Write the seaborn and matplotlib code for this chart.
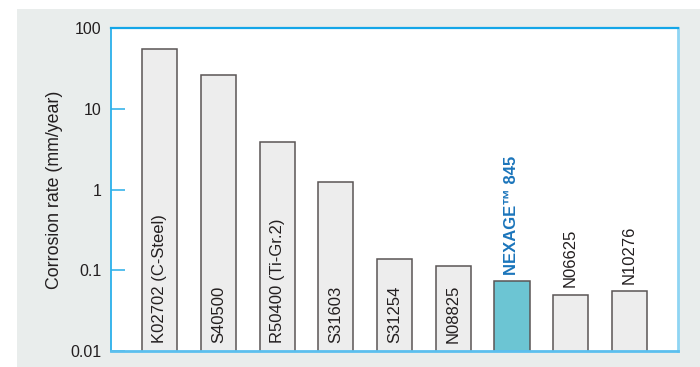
import matplotlib
matplotlib.use("Agg")
import matplotlib.pyplot as plt
from matplotlib.patches import Rectangle
from matplotlib.ticker import FixedLocator, FixedFormatter, NullLocator
import seaborn as sns
import pandas as pd

# Corrosion rates of alloys (mm/year)
alloys = ["K02702 (C-Steel)", "S40500", "R50400 (Ti-Gr.2)", "S31603", "S31254",
          "N08825", "NEXAGE™ 845", "N06625", "N10276"]
rates = [55.5, 26.4, 3.87, 1.25, 0.136, 0.112, 0.073, 0.050, 0.055]
label_inside = [True, True, True, True, True, True, False, False, False]
highlight = "NEXAGE™ 845"

ytick_values = [0.01, 0.1, 1, 10, 100]
ytick_labels = ["0.01", "0.1", "1", "10", "100"]

sns.set_theme(style="white")
plt.rcParams["font.family"] = ["Liberation Sans", "DejaVu Sans"]

TEXT = "#231f20"
BLUE_TXT = "#1b75bb"
BAR_FACE = "#ededed"
BAR_HI = "#6cc5d3"
BAR_EDGE = "#5a5555"

fig = plt.figure(figsize=(7.0, 3.67), dpi=100)
fig.patch.set_facecolor("white")
# grey panel behind the chart
fig.patches.append(Rectangle((17 / 700, 0), 1 - 17 / 700, 1 - 9 / 367,
                             transform=fig.transFigure, facecolor="#e9edec",
                             edgecolor="none", zorder=-10))

ax = fig.add_axes([111 / 700, 16 / 367, 567 / 700, 323 / 367])
ax.set_zorder(5)
ax.set_facecolor("white")

df = pd.DataFrame({"alloy": alloys, "rate": rates})
palette = {a: (BAR_HI if a == highlight else BAR_FACE) for a in alloys}
sns.barplot(data=df, x="alloy", y="rate", hue="alloy", palette=palette,
            width=0.6, edgecolor=BAR_EDGE, linewidth=1.1, legend=False,
            saturation=1, ax=ax)

ax.set_yscale("log")
ax.set_ylim(0.01, 100)
ax.set_xlim(-0.83, len(alloys) - 1 + 0.83)

ax.yaxis.set_major_locator(FixedLocator(ytick_values))
ax.yaxis.set_major_formatter(FixedFormatter(ytick_labels))
ax.yaxis.set_minor_locator(NullLocator())
ax.tick_params(axis="y", which="major", direction="in", length=10, width=1.2,
               color="#3ab4ea", labelsize=11.5, labelcolor=TEXT, pad=7, left=True)
ax.tick_params(axis="x", bottom=False, labelbottom=False)
ax.set_xlabel("")
ax.set_ylabel("")

for side, col, lw in [("left", "#2ab0ea", 1.3), ("top", "#14a6e8", 1.6),
                      ("right", "#8fd5f3", 2.0), ("bottom", "#5bbfee", 2.0)]:
    ax.spines[side].set_visible(True)
    ax.spines[side].set_color(col)
    ax.spines[side].set_linewidth(lw)

fig.text(55 / 700, 1 - 189.5 / 367, "Corrosion rate (mm/year)", rotation=90,
         ha="center", va="center", fontsize=12.8, color=TEXT, zorder=6)

for i, (name, val, inside) in enumerate(zip(alloys, rates, label_inside)):
    if name == highlight:
        ax.annotate(name, xy=(i, val), xytext=(0, 4.5), textcoords="offset points",
                    rotation=90, ha="center", va="bottom", fontsize=12,
                    fontweight="bold", color=BLUE_TXT)
    elif inside:
        ax.annotate(name, xy=(i, 0.01), xytext=(0, 5.8), textcoords="offset points",
                    rotation=90, ha="center", va="bottom", fontsize=12, color=TEXT)
    else:
        ax.annotate(name, xy=(i, val), xytext=(0, 5.2), textcoords="offset points",
                    rotation=90, ha="center", va="bottom", fontsize=12, color=TEXT)

fig.savefig("out.png", dpi=100, facecolor=fig.get_facecolor())
